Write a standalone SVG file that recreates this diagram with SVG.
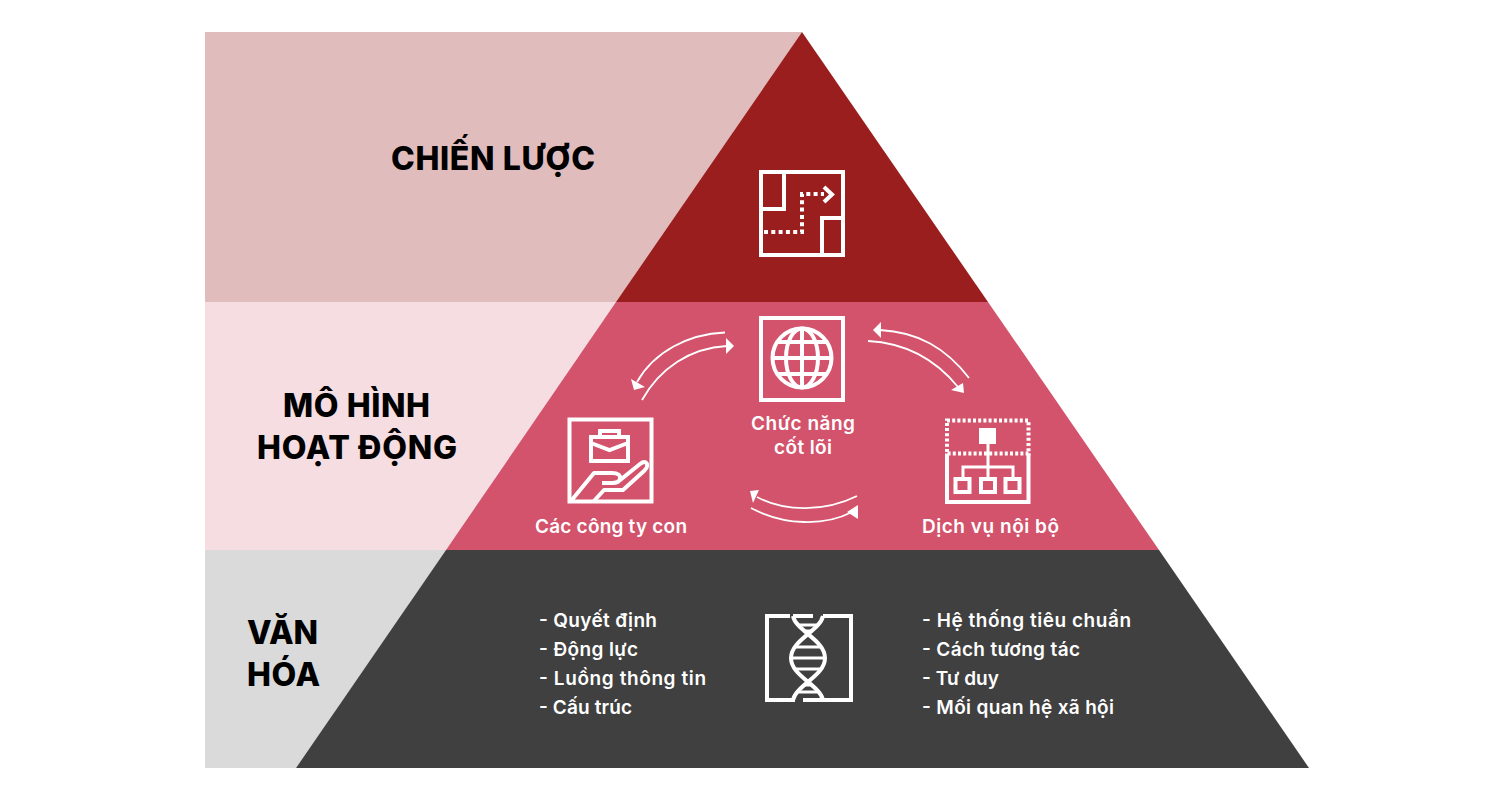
<svg xmlns="http://www.w3.org/2000/svg" width="1491" height="788" viewBox="0 0 1491 788">
<defs>
<style>
text{font-family:"Inter","Noto Sans","Liberation Sans",sans-serif;fill:#fff}
.h{font-size:32px;font-weight:800;fill:#000}
.t{font-size:19px;font-weight:600}
.i{fill:none;stroke:#fff;stroke-width:4}
.n{fill:none;stroke:#fff;stroke-width:3}
.f{fill:#fff;stroke:none}
.d{fill:none;stroke:#fff;stroke-width:4;stroke-dasharray:4 3.300}
.o{fill:none;stroke:#fff;stroke-width:4;stroke-dasharray:3 2.200}
.c{fill:none;stroke:#fff;stroke-width:1.800}
.a{fill:#fff;stroke:none}
</style>
</defs>
<rect width="1491" height="788" fill="#fff"/>
<g id="band-strategy">
<polygon points="205,32 802,32 616,302 205,302" fill="#e0bcbc"/>
<polygon points="802,32 988,302 616,302" fill="#9b1e1e"/>
<text class="h" x="391" y="170" textLength="204">CHIẾN LƯỢC</text>
</g>
<g id="band-model">
<polygon points="205,302 616,302 446,550 205,550" fill="#f5dde1"/>
<polygon points="616,302 988,302 1159,550 446,550" fill="#d2536b"/>
<text class="h" x="283" y="417" textLength="147">MÔ HÌNH</text>
<text class="h" x="257" y="459" textLength="200">HOẠT ĐỘNG</text>
</g>
<g id="band-culture">
<polygon points="205,550 446,550 296,768 205,768" fill="#dadada"/>
<polygon points="446,550 1159,550 1309,768 296,768" fill="#404040"/>
<text class="h" x="247" y="644" textLength="71">VĂN</text>
<text class="h" x="247" y="686" textLength="73">HÓA</text>
</g>
<g id="node-strategy-icon">
<rect class="i" x="761" y="172" width="82" height="83"/>
<path class="i" d="M761 209H784V172M843 218H822V255"/>
<path class="d" d="M764 232H802V194H824"/>
<path class="i" d="M824 187L832 194.500L824 202"/>
</g>
<g id="node-core">
<rect class="i" x="761" y="318" width="82" height="82"/>
<circle class="i" cx="802" cy="358" r="29.500"/>
<ellipse class="i" cx="802" cy="358" rx="16" ry="29.500"/>
<path class="i" d="M802 328.500V387.500M772.500 358H831.500M777 342H827M777 374H827"/>
<text class="t" x="751" y="430" textLength="104">Chức năng</text>
<text class="t" x="774" y="454" textLength="58">cốt lõi</text>
</g>
<g id="node-subsidiaries">
<rect class="i" x="569.500" y="419.500" width="82" height="82"/>
<rect class="i" x="591" y="437" width="37" height="24"/>
<path class="i" d="M600 437V431H619V437M591 443L609.500 450L628 443"/>
<path class="i" stroke-linejoin="round" d="M571 501L594 473H612Q621 473 620 479Q619 483 612 483H602M619 481L640 464Q645 460 647 464Q648 467 644 471L623 490H604L594 501"/>
<text class="t" x="535" y="533" textLength="152">Các công ty con</text>
</g>
<g id="node-internal-services">
<rect class="o" x="947" y="420.500" width="81.500" height="33"/>
<path class="i" d="M947 453.500V502H1028.500V453.500"/>
<rect class="f" x="979" y="428" width="17" height="16"/>
<path class="n" d="M988 444V478M963 478V467H1013V478"/>
<rect class="i" x="955.500" y="479" width="14" height="13"/>
<rect class="i" x="981" y="479" width="14" height="13"/>
<rect class="i" x="1005.500" y="479" width="14" height="13"/>
<text class="t" x="922" y="533" textLength="137">Dịch vụ nội bộ</text>
</g>
<g id="node-culture-icon">
<path class="i" d="M790 616H767V700H795M823 616H851V700H803M793 616H813"/>
<path class="i" d="M793 616C796 631 825 640 825 658C825 676 796 685 793 700"/>
<path class="i" d="M823 616C820 631 791 640 791 658C791 676 820 685 823 700"/>
<path class="n" d="M799 625H817M803 631H813M795 647H821M792 658H824M795 669H821M803 685H813M799 692H817"/>
</g>
<g id="list-left">
<text class="t" x="539" y="627" textLength="118">- Quyết định</text>
<text class="t" x="539" y="656" textLength="99">- Động lực</text>
<text class="t" x="539" y="685" textLength="167">- Luồng thông tin</text>
<text class="t" x="539" y="714" textLength="93">- Cấu trúc</text>
</g>
<g id="list-right">
<text class="t" x="922" y="627" textLength="209">- Hệ thống tiêu chuẩn</text>
<text class="t" x="922" y="656" textLength="158">- Cách tương tác</text>
<text class="t" x="922" y="685" textLength="77">- Tư duy</text>
<text class="t" x="922" y="714" textLength="192">- Mối quan hệ xã hội</text>
</g>
<g id="connectors">
<path class="c" d="M725 332.500C688 334 654 352 637 382"/>
<polygon class="a" points="634,390 631,379 645,387"/>
<path class="c" d="M642 400C660 368 690 348 727 346"/>
<polygon class="a" points="734,346 726,338 726,354"/>
<path class="c" d="M969 378C946 348 918 332 880 330"/>
<polygon class="a" points="873,330 881,322 881,338"/>
<path class="c" d="M868 341C906 343 936 360 958 387"/>
<polygon class="a" points="964,393 951,390 963,383"/>
<path class="c" d="M857 496C825 512 785 512 757 497"/>
<polygon class="a" points="750,491 759,490 753,503"/>
<path class="c" d="M751 508C785 526 825 526 852 512"/>
<polygon class="a" points="858,519 847,512 858,505"/>
</g>
</svg>
